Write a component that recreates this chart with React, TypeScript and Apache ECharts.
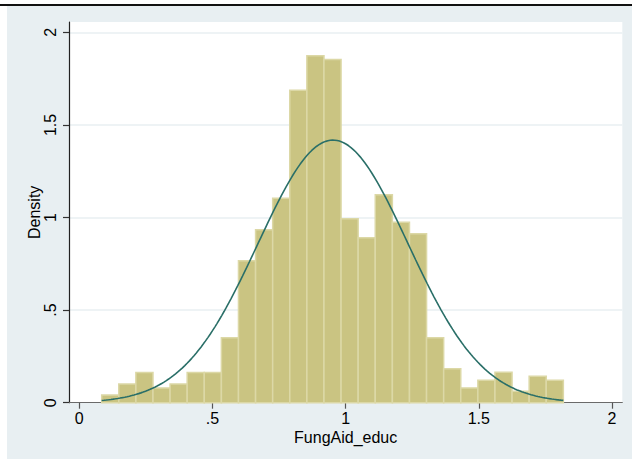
import { useEffect, useRef } from "react";
import * as echarts from "echarts";

// Histogram of FungAid_educ: 27 equal-width bins, heights as density.
const binStart = 0.084;
const binWidth = 0.0642;
const densities = [
  0.041, 0.101, 0.163, 0.08, 0.101, 0.163, 0.163, 0.351, 0.767, 0.934,
  1.104, 1.687, 1.874, 1.854, 0.994, 0.891, 1.123, 0.975, 0.912, 0.351,
  0.184, 0.08, 0.121, 0.164, 0.062, 0.143, 0.121,
];

// Sample moments used for the overlaid normal density.
const sampleMean = 0.9525;
const sampleSd = 0.2813;

const xTicks = [0, 0.5, 1, 1.5, 2];
const xTickLabels = ["0", ".5", "1", "1.5", "2"];
const yTicks = [0, 0.5, 1, 1.5, 2];
const yTickLabels = ["0", ".5", "1", "1.5", "2"];

const xTitle = "FungAid_educ";
const yTitle = "Density";

const FONT = "'Liberation Sans', Arial, Helvetica, sans-serif";

export default function App() {
  const ref = useRef<HTMLDivElement>(null);

  useEffect(() => {
    if (!ref.current) return;
    const chart = echarts.init(ref.current, undefined, { renderer: "svg" });

    const bars = densities.map((d, i) => [
      binStart + i * binWidth,
      binStart + (i + 1) * binWidth,
      d,
    ]);

    const lo = binStart;
    const hi = binStart + densities.length * binWidth;
    const steps = 200;
    const curve: number[][] = [];
    for (let k = 0; k <= steps; k++) {
      const x = lo + ((hi - lo) * k) / steps;
      const z = (x - sampleMean) / sampleSd;
      curve.push([x, Math.exp(-0.5 * z * z) / (sampleSd * Math.sqrt(2 * Math.PI))]);
    }

    chart.setOption({
      animation: false,
      backgroundColor: "#e8eff2",
      textStyle: { fontFamily: FONT },
      graphic: [
        { type: "rect", shape: { x: 0, y: 0, width: 632, height: 4 }, style: { fill: "#ffffff" } },
        { type: "rect", shape: { x: 0, y: 4, width: 632, height: 2 }, style: { fill: "#111111" } },
        { type: "rect", shape: { x: 0, y: 6, width: 7, height: 453 }, style: { fill: "#ffffff" } },
      ],
      grid: {
        left: 69,
        right: 9.7,
        top: 22,
        bottom: 56.3,
        show: true,
        backgroundColor: "#ffffff",
        borderWidth: 0,
      },
      xAxis: {
        type: "value",
        min: -0.0387,
        max: 2.0387,
        name: xTitle,
        nameLocation: "middle",
        nameGap: 27,
        nameMoveOverlap: false,
        nameTextStyle: { fontFamily: FONT, fontSize: 16, color: "#000" },
        axisLine: { show: true, onZero: false, lineStyle: { color: "#6a6a6a", width: 1.2 } },
        axisTick: {
          show: true,
          length: 6,
          customValues: xTicks,
          lineStyle: { color: "#555", width: 1.2 },
        },
        axisLabel: {
          customValues: xTicks,
          margin: 8,
          fontFamily: FONT,
          fontSize: 16,
          color: "#000",
          formatter: (v: number) => {
            const i = xTicks.findIndex((t) => Math.abs(t - v) < 1e-6);
            return i >= 0 ? xTickLabels[i] : "";
          },
        },
        splitLine: { show: false },
      },
      yAxis: {
        type: "value",
        min: 0,
        max: 2.056,
        name: yTitle,
        nameLocation: "middle",
        nameGap: 27,
        nameMoveOverlap: false,
        nameTextStyle: { fontFamily: FONT, fontSize: 16, color: "#000" },
        axisLine: { show: true, onZero: false, lineStyle: { color: "#222", width: 1.2 } },
        axisTick: {
          show: true,
          length: 6,
          customValues: yTicks,
          lineStyle: { color: "#333", width: 1.2 },
        },
        axisLabel: {
          customValues: yTicks,
          rotate: 90,
          align: "center",
          verticalAlign: "middle",
          margin: 19,
          fontFamily: FONT,
          fontSize: 16,
          color: "#000",
          formatter: (v: number) => {
            const i = yTicks.findIndex((t) => Math.abs(t - v) < 1e-6);
            return i >= 0 ? yTickLabels[i] : "";
          },
        },
        splitLine: { show: true, lineStyle: { color: "#e8eff2", width: 1.5 } },
      },
      series: [
        {
          type: "custom",
          data: bars,
          encode: { x: [0, 1], y: 2 },
          renderItem: (_params: any, api: any) => {
            const p0 = api.coord([api.value(0), api.value(2)]);
            const p1 = api.coord([api.value(1), 0]);
            return {
              type: "rect",
              shape: { x: p0[0], y: p0[1], width: p1[0] - p0[0], height: p1[1] - p0[1] },
              style: { fill: "#cac482", stroke: "#dcd8a6", lineWidth: 1.5 },
            };
          },
          z: 2,
        },
        {
          type: "line",
          data: curve,
          showSymbol: false,
          symbol: "none",
          lineStyle: { color: "#2a6f68", width: 1.6 },
          z: 3,
        },
      ],
    });

    return () => chart.dispose();
  }, []);

  return (
    <div
      ref={ref}
      style={{ position: "fixed", left: 0, top: 0, width: 632, height: 459 }}
    />
  );
}
